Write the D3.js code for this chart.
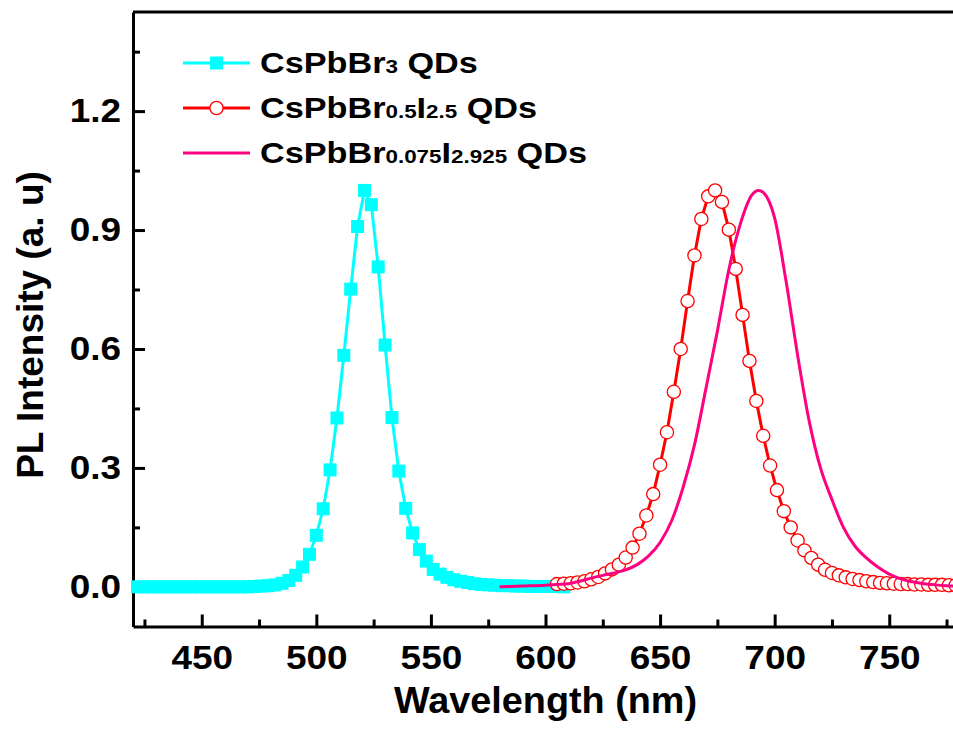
<!DOCTYPE html>
<html>
<head>
<meta charset="utf-8">
<script src="https://cdn.jsdelivr.net/npm/d3@7"></script>
<style>
  html, body { margin: 0; padding: 0; background: #fff; overflow: hidden; }
  svg { display: block; font-family: "Liberation Sans", Arial, sans-serif; font-weight: bold; }
</style>
</head>
<body>
<svg id="chart" width="953" height="732"></svg>
<script>
// PL spectra of the three quantum-dot samples (wavelength in nm, normalised intensity)
const cyanNm = [422,425,428,431,434,437,440,443,446,449,452,455,458,461,464,467,470,
  473,476,479,482,485,488,491,494,497,500,503,506,509,512,515,518,521,524,527,530,
  533,536,539,542,545,548,551,554,557,560,563,566,569,572,575,578,581,584,587,590,
  593,596,599,602,605,608];
const cyanPL = [0,0,0,0,0,0,0,0,0,0,0,0,0,0,0,0,0,
  0.001,0.002,0.003,0.005,0.009,0.016,0.029,0.050,0.082,0.130,0.197,0.295,0.426,0.584,0.751,0.909,1.000,0.964,0.807,0.610,
  0.427,0.292,0.198,0.136,0.094,0.065,0.044,0.032,0.024,0.018,0.014,0.011,0.008,0.006,0.005,0.004,0.003,0.003,0.002,0.002,
  0.001,0.001,0.001,0.001,0.001,0.000];

const redNm = [605,608,611,614,617,620,623,626,629,632,635,638,641,644,647,650,653,656,659,662,
  665,668,671,674,677,680,683,686,689,692,695,698,701,704,707,710,713,716,719,722,
  725,728,731,734,737,740,743,746,749,752,755,758,761,764,767,770,773,776,779];
const redPL = [0.007,0.008,0.009,0.011,0.014,0.019,0.025,0.034,0.044,0.056,0.074,0.099,0.134,0.180,0.234,0.308,0.390,0.492,0.600,0.721,
  0.836,0.928,0.985,1.000,0.971,0.901,0.802,0.686,0.570,0.469,0.381,0.306,0.244,0.191,0.150,0.117,0.092,0.073,0.056,0.043,
  0.035,0.029,0.024,0.020,0.017,0.014,0.012,0.010,0.009,0.008,0.007,0.007,0.006,0.006,0.005,0.005,0.005,0.004,0.004];

const pinkNm = [580,590,600,605,610,615,620,625,630,635,640,645,650,655,660,665,670,675,680,685,
  690,693,695,700,705,710,715,720,725,730,735,740,745,750,755,760,765,770,775,780];
const pinkPL = [0.000,0.002,0.004,0.006,0.008,0.014,0.022,0.029,0.035,0.043,0.056,0.078,0.112,0.166,0.250,0.358,0.500,0.645,0.800,0.915,
  0.988,1.000,0.995,0.930,0.770,0.585,0.420,0.300,0.220,0.150,0.103,0.073,0.050,0.032,0.020,0.013,0.008,0.005,0.003,0.002];

const xMajorTicks = [450,500,550,600,650,700,750];
const xMinorTicks = [425,475,525,575,625,675,725,775];
const yMajorTicks = [0.0,0.3,0.6,0.9,1.2];
const yMinorTicks = [0.15,0.45,0.75,1.05,1.35];

const legendItems = [
  {parts: [["CsPbBr", false], ["3", true], [" QDs", false]], color: "#00FFFF", marker: "square"},
  {parts: [["CsPbBr", false], ["0.5", true], ["I", false], ["2.5", true], [" QDs", false]], color: "#FF0000", marker: "circle"},
  {parts: [["CsPbBr", false], ["0.075", true], ["I", false], ["2.925", true], [" QDs", false]], color: "#FF0080", marker: "none"}
];

const svg = d3.select("#chart");
const plotLeft = 133, plotRight = 958, plotTop = 12, plotBottom = 626.5;

const x = d3.scaleLinear().domain([420, 780]).range([plotLeft, plotRight]);
const y = d3.scaleLinear().domain([-0.1, 1.45]).range([plotBottom, plotTop]);

// frame: top and right edges
svg.append("path")
  .attr("d", `M${plotLeft},${plotTop}H${plotRight}V${plotBottom}`)
  .attr("fill", "none").attr("stroke", "#000").attr("stroke-width", 3);

const tickFont = 33, tickStretch = 1.12;

// x axis
const gx = svg.append("g").attr("transform", `translate(0,${plotBottom})`)
  .call(d3.axisBottom(x).tickValues(xMajorTicks).tickSizeInner(-12).tickSizeOuter(0).tickPadding(19).tickFormat(d3.format("d")));
svg.append("g").attr("transform", `translate(0,${plotBottom})`)
  .call(d3.axisBottom(x).tickValues(xMinorTicks).tickSizeInner(-7).tickSizeOuter(0).tickFormat(""))
  .select(".domain").remove();

// y axis
const gy = svg.append("g").attr("transform", `translate(${plotLeft},0)`)
  .call(d3.axisLeft(y).tickValues(yMajorTicks).tickSizeInner(-12).tickSizeOuter(0).tickPadding(12).tickFormat(d3.format(".1f")));
svg.append("g").attr("transform", `translate(${plotLeft},0)`)
  .call(d3.axisLeft(y).tickValues(yMinorTicks).tickSizeInner(-7).tickSizeOuter(0).tickFormat(""))
  .select(".domain").remove();

svg.selectAll(".domain").attr("stroke-width", 3).attr("stroke", "#000");
svg.selectAll(".tick line").attr("stroke-width", 3).attr("stroke", "#000");
svg.selectAll(".tick text")
  .attr("font-size", tickFont).attr("font-family", "Liberation Sans, Arial, sans-serif")
  .attr("font-weight", "bold").attr("fill", "#000");
gx.selectAll(".tick text").attr("transform", `scale(${tickStretch},1)`);
gy.selectAll(".tick text").each(function() {
  const t = d3.select(this);
  t.attr("x", +t.attr("x") / tickStretch).attr("transform", `scale(${tickStretch},1)`);
});

// axis titles
const cx = (plotLeft + plotRight) / 2;
svg.append("text")
  .attr("x", cx).attr("y", 713)
  .attr("text-anchor", "middle").attr("font-size", 36)
  .attr("transform", `translate(${cx},0) scale(1.05,1) translate(${-cx},0)`)
  .text("Wavelength (nm)");
svg.append("text")
  .attr("transform", "translate(43,325) rotate(-90)")
  .attr("text-anchor", "middle").attr("font-size", 37)
  .text("PL Intensity (a. u)");

const line = d3.line().x(d => x(d[0])).y(d => y(d[1]));
const cyanData = cyanNm.map((d, i) => [d, cyanPL[i]]);
const redData = redNm.map((d, i) => [d, redPL[i]]);
const pinkData = pinkNm.map((d, i) => [d, pinkPL[i]]);

// CsPbBr3: line with filled squares
svg.append("path").datum(cyanData)
  .attr("d", line).attr("fill", "none")
  .attr("stroke", "#00FFFF").attr("stroke-width", 3);
const sq = 13;
svg.append("g").selectAll("rect").data(cyanData).join("rect")
  .attr("x", d => x(d[0]) - sq / 2).attr("y", d => y(d[1]) - sq / 2)
  .attr("width", sq).attr("height", sq).attr("fill", "#00FFFF");

// CsPbBr0.5I2.5: line with open circles
svg.append("path").datum(redData)
  .attr("d", line).attr("fill", "none")
  .attr("stroke", "#FF0000").attr("stroke-width", 3);
svg.append("g").selectAll("circle").data(redData).join("circle")
  .attr("cx", d => x(d[0])).attr("cy", d => y(d[1])).attr("r", 6.6)
  .attr("fill", "#fff").attr("stroke", "#FF0000").attr("stroke-width", 1.3);

// CsPbBr0.075I2.925: smooth line
svg.append("path").datum(pinkData)
  .attr("d", d3.line().x(d => x(d[0])).y(d => y(d[1])).curve(d3.curveMonotoneX))
  .attr("fill", "none").attr("stroke", "#FF0080").attr("stroke-width", 3);

// legend
const lg = svg.append("g");
legendItems.forEach((item, i) => {
  const ly = 63 + i * 45;
  lg.append("line").attr("x1", 183).attr("x2", 250).attr("y1", ly).attr("y2", ly)
    .attr("stroke", item.color).attr("stroke-width", 3);
  if (item.marker === "square") {
    lg.append("rect").attr("x", 216.5 - sq / 2).attr("y", ly - sq / 2)
      .attr("width", sq).attr("height", sq).attr("fill", item.color);
  } else if (item.marker === "circle") {
    lg.append("circle").attr("cx", 216.5).attr("cy", ly).attr("r", 6.6)
      .attr("fill", "#fff").attr("stroke", item.color).attr("stroke-width", 1.3);
  }
  const t = lg.append("text").attr("x", 260).attr("y", ly + 10).attr("font-size", 29)
    .attr("transform", `translate(260,0) scale(1.18,1) translate(-260,0)`);
  item.parts.forEach(([s, sub]) => {
    t.append("tspan").attr("font-size", sub ? 19 : 29).text(s);
  });
});
</script>
</body>
</html>
